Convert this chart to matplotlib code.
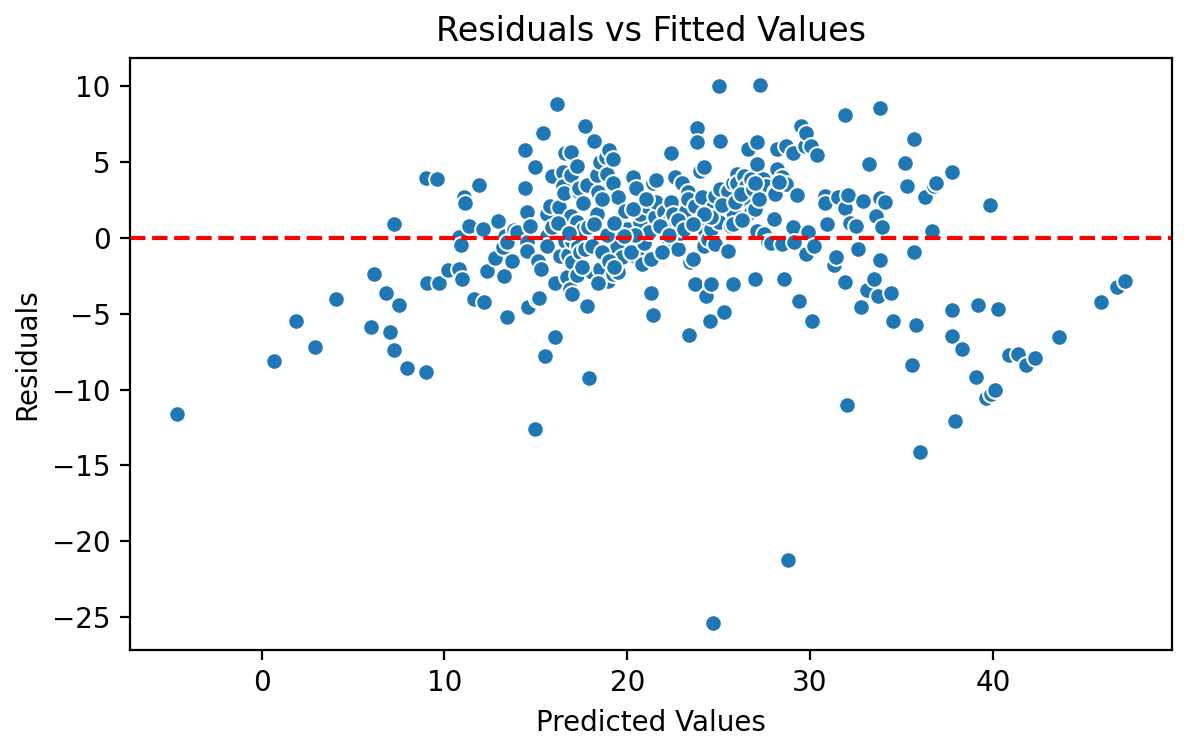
import matplotlib
matplotlib.use("Agg")
import matplotlib.pyplot as plt
import numpy as np

points = [
(-4.6,-11.6),(0.7,-8.1),(1.9,-5.5),(2.95,-7.2),(4.1,-4.0),(6.0,-5.9),(6.15,-2.4),(6.8,-3.6),
(7.0,-6.2),(7.25,-7.4),(7.25,0.9),(7.5,-4.4),(7.95,-8.6),(9.0,3.95),(9.05,-2.95),(9.0,-8.85),
(9.6,3.9),(9.7,-3.0),(10.2,-2.1),(10.8,0.05),(10.8,-2.05),(10.9,-0.45),(10.95,-2.7),(11.05,2.7),
(11.15,2.3),(11.35,0.8),(11.6,-4.0),(11.9,3.5),(12.1,0.6),(12.15,-4.2),(12.35,-2.2),(12.75,-1.3),
(12.95,1.1),(13.2,-0.6),(13.25,-2.5),(13.3,0.15),(13.4,-5.2),(13.45,-0.25),(13.7,-1.5),(13.8,0.55),
(13.95,0.4),(14.4,5.8),(14.4,3.3),(14.5,1.7),(14.5,-0.25),(14.5,-0.85),(14.6,-4.55),(14.7,0.8),
(14.95,4.7),(14.95,-12.6),(15.05,-4.0),(15.1,-1.5),(15.2,-3.95),(15.3,-2.05),(15.4,6.95),(15.5,-7.8),
(15.6,1.6),(15.6,0.15),(15.6,-0.5),(15.8,2.1),(15.9,4.1),(15.9,0.75),(16.05,-3.0),(16.05,-6.55),
(16.15,8.85),(16.25,2.05),(16.3,-1.2),(16.5,4.35),(16.5,3.4),(16.55,3.0),(16.6,5.6),(16.6,-0.2),
(16.7,-2.6),(16.75,-1.1),(16.85,-3.35),(16.9,4.15),(16.9,1.45),(16.9,5.7),(17.0,-0.2),(17.0,-1.6),
(17.0,-3.7),(17.25,4.75),(17.25,1.05),(17.25,-2.45),(17.3,-0.55),(17.3,3.1),(17.4,-0.95),(17.35,3.3),
(17.6,0.6),(17.7,7.4),(17.7,-0.73),(17.8,3.5),(17.85,0.75),(17.8,-4.5),(17.9,-9.25),(18.1,-0.53),
(18.1,-2.25),(18.2,6.4),(18.35,4.15),(18.35,1.6),(18.4,3.05),(18.5,5.0),(18.5,-2.05),(18.8,-1.2),
(18.85,5.35),(18.9,4.2),(18.95,-2.85),(19.0,5.8),(19.2,5.2),(19.2,3.6),(19.2,-2.4),(19.45,0.8),
(19.45,-0.6),(19.5,2.7),(19.5,-2.25),(19.6,1.26),(19.7,-1.26),(19.9,1.8),(20.0,0.6),(20.3,4.0),
(20.4,-1.2),(20.5,3.3),(20.6,-0.73),(20.7,1.06),(20.7,1.6),(20.8,-1.7),(21.1,2.1),(21.3,-1.4),
(21.3,-3.6),(21.4,3.6),(21.4,-5.1),(21.5,1.4),(21.6,2.4),(21.6,3.8),(22.0,1.7),(22.2,-0.6),
(22.25,1.06),(22.4,5.6),(22.4,2.4),(22.5,1.6),(22.6,4.0),(22.8,-0.73),(22.9,0.3),(23.0,3.6),
(23.2,1.8),(23.3,3.05),(23.35,2.6),(23.46,-1.6),(23.4,-6.4),(23.6,-1.4),(23.7,2.1),(23.7,-3.05),
(23.8,7.25),(23.8,6.3),(23.9,1.13),(24.0,4.4),(24.1,2.7),(24.2,4.7),(24.2,0.6),(24.2,-0.5),
(24.3,-3.85),(24.4,-0.07),(24.5,-5.45),(24.56,-3.05),(24.56,0.6),(24.7,2.05),(24.7,-25.4),(24.8,2.8),
(24.8,-0.4),(25.0,1.06),(25.0,10.0),(25.05,6.4),(25.1,3.25),(25.3,-4.9),(25.5,3.1),(25.5,-0.86),
(25.65,0.8),(25.8,3.6),(25.8,1.7),(25.8,0.93),(25.8,-3.05),(26.0,4.24),(26.0,3.6),(26.4,4.1),
(26.5,3.44),(26.5,2.6),(26.6,5.9),(26.75,3.9),(26.75,1.7),(27.0,1.9),(27.0,-2.7),(27.1,6.3),
(27.1,4.85),(27.1,0.45),(27.25,10.1),(27.4,3.9),(27.5,0.26),(27.6,3.44),(27.7,-0.25),(27.86,-0.3),
(28.0,1.26),(28.1,3.05),(28.1,2.9),(28.2,5.85),(28.2,4.57),(28.45,4.04),(28.45,-0.4),(28.6,-2.7),
(28.7,6.1),(28.7,3.55),(28.8,-21.25),(29.05,5.6),(29.07,0.73),(29.1,-0.25),(29.3,2.85),(29.4,-4.15),
(29.5,7.4),(29.7,6.1),(29.8,6.95),(29.8,-1.05),(29.9,0.4),(30.05,6.1),(30.1,-5.45),(30.2,-0.5),
(30.4,5.45),(30.8,2.8),(30.8,2.3),(30.9,0.95),(31.3,-1.8),(31.4,-1.25),(31.5,2.7),(31.9,8.1),
(31.9,2.0),(31.9,-2.9),(32.0,-11.0),(32.1,2.85),(32.2,1.0),(32.5,0.8),(32.6,-0.75),(32.8,-4.55),
(32.9,2.45),(33.1,-3.4),(33.2,4.85),(33.5,-2.7),(33.6,1.45),(33.7,-3.85),(33.8,8.55),(33.8,2.65),
(33.8,-1.45),(33.95,0.7),(34.1,2.4),(34.4,-3.65),(34.55,-5.45),(35.2,4.95),(35.3,3.45),(35.6,-8.35),
(35.7,6.55),(35.7,-0.95),(35.8,-5.75),(36.0,-14.1),(36.3,2.7),(36.65,0.45),(36.8,3.4),(36.9,3.65),
(37.75,4.35),(37.75,-4.75),(37.75,-6.45),(37.95,-12.1),(38.3,-7.35),(39.1,-9.2),(39.2,-4.45),(39.6,-10.55),
(39.85,2.2),(39.9,-10.3),(40.1,-10.0),(40.3,-4.65),(40.9,-7.75),(41.35,-7.65),(41.8,-8.4),(42.3,-7.9),
(43.6,-6.5),(45.9,-4.25),(46.8,-3.25),(47.2,-2.85),
(18.6,-0.9),(19.0,-1.5),(19.3,-1.9),(20.2,-0.9),(20.9,-0.3),(21.2,0.4),(21.8,0.8),(21.9,-0.9),
(22.3,0.2),(20.4,0.2),(19.8,0.1),(18.9,0.2),(18.2,0.9),(19.3,1.0),(20.3,1.9),(21.0,2.6),
(22.8,1.2),(23.1,0.6),(24.6,1.4),(25.2,2.2),(25.9,2.4),(26.2,2.9),(26.9,3.2),(27.2,2.6),
(27.0,3.6),(28.3,3.7),(26.3,1.2),(24.2,1.6),(23.6,0.9),(17.6,2.3),(18.6,2.6),(16.2,1.0),
(16.8,0.3),(17.5,-1.9),(18.4,-3.0),
]

predicted = [p[0] for p in points]
residuals = [p[1] for p in points]

fig = plt.figure(figsize=(5.955, 3.755), dpi=200)
ax = fig.add_axes([0.1092, 0.1345, 0.984 - 0.1092, 0.9228 - 0.1345])
ax.scatter(predicted, residuals, s=36, color="#1f77b4", edgecolors="white", linewidths=0.75)
ax.axhline(0, color="red", linestyle="--", linewidth=1.5)
ax.set_title("Residuals vs Fitted Values")
ax.set_xlabel("Predicted Values")
ax.set_ylabel("Residuals")
fig.savefig("out.png", dpi=200)
